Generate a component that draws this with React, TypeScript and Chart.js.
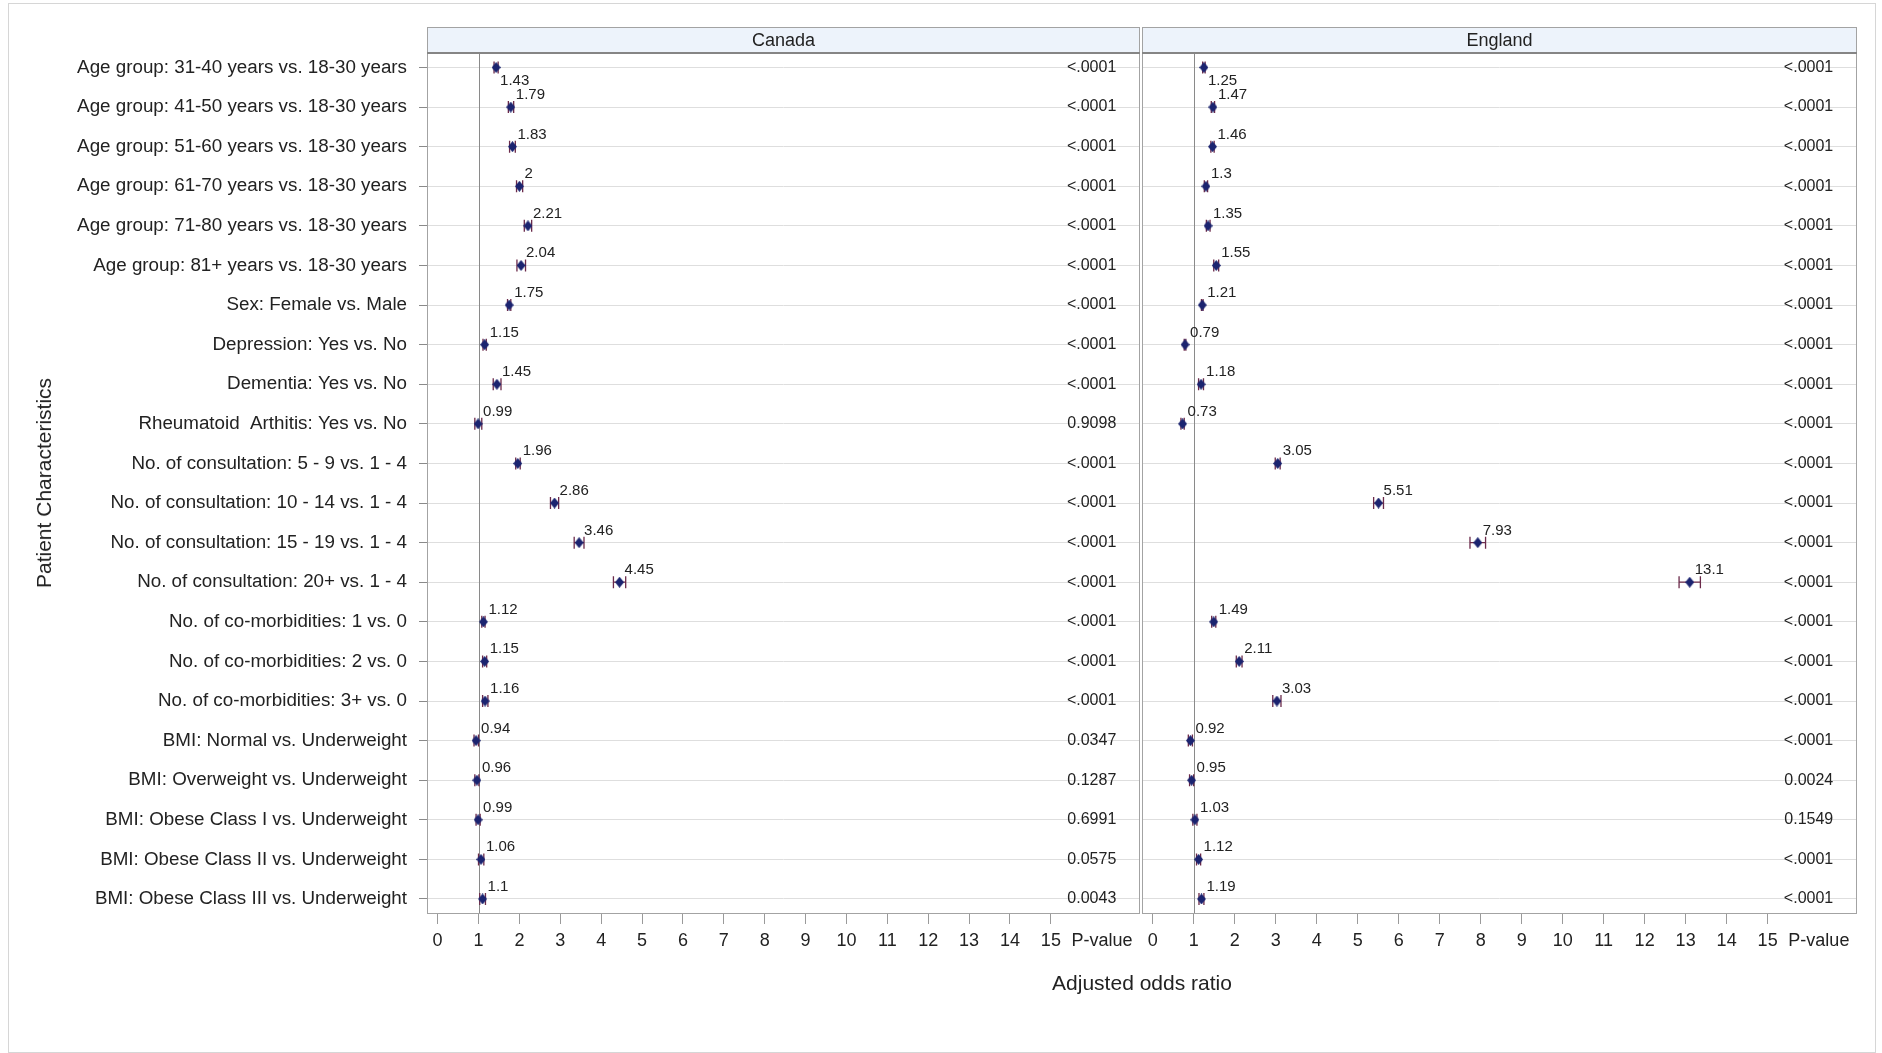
import React, { useEffect, useRef } from "react";
import { Chart, registerables } from "chart.js";

Chart.register(...registerables);

const categories = [
  "Age group: 31-40 years vs. 18-30 years",
  "Age group: 41-50 years vs. 18-30 years",
  "Age group: 51-60 years vs. 18-30 years",
  "Age group: 61-70 years vs. 18-30 years",
  "Age group: 71-80 years vs. 18-30 years",
  "Age group: 81+ years vs. 18-30 years",
  "Sex: Female vs. Male",
  "Depression: Yes vs. No",
  "Dementia: Yes vs. No",
  "Rheumatoid  Arthitis: Yes vs. No",
  "No. of consultation: 5 - 9 vs. 1 - 4",
  "No. of consultation: 10 - 14 vs. 1 - 4",
  "No. of consultation: 15 - 19 vs. 1 - 4",
  "No. of consultation: 20+ vs. 1 - 4",
  "No. of co-morbidities: 1 vs. 0",
  "No. of co-morbidities: 2 vs. 0",
  "No. of co-morbidities: 3+ vs. 0",
  "BMI: Normal vs. Underweight",
  "BMI: Overweight vs. Underweight",
  "BMI: Obese Class I vs. Underweight",
  "BMI: Obese Class II vs. Underweight",
  "BMI: Obese Class III vs. Underweight",
];

const canadaOR = [1.43, 1.79, 1.83, 2, 2.21, 2.04, 1.75, 1.15, 1.45, 0.99, 1.96, 2.86, 3.46, 4.45, 1.12, 1.15, 1.16, 0.94, 0.96, 0.99, 1.06, 1.1];
const canadaLower = [1.38, 1.73, 1.76, 1.93, 2.12, 1.94, 1.71, 1.11, 1.36, 0.91, 1.91, 2.76, 3.34, 4.3, 1.08, 1.1, 1.1, 0.89, 0.91, 0.94, 1.0, 1.03];
const canadaUpper = [1.48, 1.86, 1.9, 2.08, 2.3, 2.15, 1.79, 1.19, 1.55, 1.08, 2.02, 2.96, 3.58, 4.6, 1.16, 1.2, 1.23, 1.0, 1.01, 1.04, 1.13, 1.17];
const canadaP = ["<.0001", "<.0001", "<.0001", "<.0001", "<.0001", "<.0001", "<.0001", "<.0001", "<.0001", "0.9098", "<.0001", "<.0001", "<.0001", "<.0001", "<.0001", "<.0001", "<.0001", "0.0347", "0.1287", "0.6991", "0.0575", "0.0043"];

const englandOR = [1.25, 1.47, 1.46, 1.3, 1.35, 1.55, 1.21, 0.79, 1.18, 0.73, 3.05, 5.51, 7.93, 13.1, 1.49, 2.11, 3.03, 0.92, 0.95, 1.03, 1.12, 1.19];
const englandLower = [1.22, 1.43, 1.42, 1.26, 1.31, 1.49, 1.19, 0.77, 1.12, 0.69, 2.99, 5.39, 7.74, 12.84, 1.44, 2.04, 2.93, 0.87, 0.9, 0.98, 1.07, 1.13];
const englandUpper = [1.28, 1.51, 1.5, 1.34, 1.4, 1.61, 1.23, 0.81, 1.24, 0.77, 3.11, 5.63, 8.12, 13.36, 1.54, 2.18, 3.13, 0.97, 1.0, 1.08, 1.17, 1.25];
const englandP = ["<.0001", "<.0001", "<.0001", "<.0001", "<.0001", "<.0001", "<.0001", "<.0001", "<.0001", "<.0001", "<.0001", "<.0001", "<.0001", "<.0001", "<.0001", "<.0001", "<.0001", "<.0001", "0.0024", "0.1549", "<.0001", "<.0001"];

const xTickValues = [0, 1, 2, 3, 4, 5, 6, 7, 8, 9, 10, 11, 12, 13, 14, 15];
const pValueTick = 16.25;
const pValueColumn = 16.6;
const referenceValue = 1;

const FONT = "'Liberation Sans', Arial, Helvetica, sans-serif";
const TEXT = "#222222";
const MARKER = "#1b2470";
const ERR = "#6b2a4a";

function diamondCanvas() {
  const c = document.createElement("canvas");
  c.width = 9;
  c.height = 11;
  const g = c.getContext("2d")!;
  g.fillStyle = MARKER;
  g.beginPath();
  g.moveTo(4.5, 0);
  g.lineTo(9, 5.5);
  g.lineTo(4.5, 11);
  g.lineTo(0, 5.5);
  g.closePath();
  g.fill();
  return c;
}

function panelPlugin(title: string, ors: number[], lows: number[], highs: number[], pvals: string[]) {
  return {
    id: "panel_" + title,
    beforeDraw(chart: any) {
      const { ctx, chartArea: a } = chart;
      ctx.save();
      ctx.fillStyle = "#ffffff";
      ctx.fillRect(a.left, a.top, a.right - a.left, a.bottom - a.top);
      ctx.fillStyle = "#edf3fb";
      ctx.fillRect(a.left, 27, a.right - a.left, a.top - 27);
      ctx.fillStyle = TEXT;
      ctx.font = `18px ${FONT}`;
      ctx.textAlign = "center";
      ctx.textBaseline = "middle";
      ctx.fillText(title, (a.left + a.right) / 2, 41);
      ctx.restore();
    },
    beforeDatasetsDraw(chart: any) {
      const { ctx, chartArea: a, scales } = chart;
      const xs = scales.x;
      const ys = scales.y;
      ctx.save();
      const rx = Math.round(xs.getPixelForValue(referenceValue)) + 0.5;
      ctx.strokeStyle = "#8a8a8a";
      ctx.lineWidth = 1;
      ctx.beginPath();
      ctx.moveTo(rx, a.top);
      ctx.lineTo(rx, a.bottom);
      ctx.stroke();
      ctx.strokeStyle = ERR;
      ctx.lineWidth = 1.3;
      for (let i = 0; i < ors.length; i++) {
        const y = ys.getPixelForValue(i);
        const x1 = xs.getPixelForValue(lows[i]);
        const x2 = xs.getPixelForValue(highs[i]);
        ctx.beginPath();
        ctx.moveTo(x1, y);
        ctx.lineTo(x2, y);
        ctx.moveTo(x1, y - 6);
        ctx.lineTo(x1, y + 6);
        ctx.moveTo(x2, y - 6);
        ctx.lineTo(x2, y + 6);
        ctx.stroke();
      }
      ctx.restore();
    },
    afterDatasetsDraw(chart: any) {
      const { ctx, chartArea: a, scales } = chart;
      const xs = scales.x;
      const ys = scales.y;
      ctx.save();
      ctx.fillStyle = TEXT;
      ctx.font = `15px ${FONT}`;
      ctx.textAlign = "left";
      for (let i = 0; i < ors.length; i++) {
        const x = xs.getPixelForValue(ors[i]);
        const y = ys.getPixelForValue(i);
        if (y - 20 < a.top) {
          ctx.textBaseline = "top";
          ctx.fillText(String(ors[i]), x + 4, y + 6);
        } else {
          ctx.textBaseline = "alphabetic";
          ctx.fillText(String(ors[i]), x + 5, y - 8);
        }
      }
      ctx.font = `16px ${FONT}`;
      ctx.textAlign = "right";
      ctx.textBaseline = "middle";
      const px = xs.getPixelForValue(pValueColumn);
      for (let i = 0; i < pvals.length; i++) {
        ctx.fillText(pvals[i], px, ys.getPixelForValue(i));
      }
      ctx.restore();
    },
    afterDraw(chart: any) {
      const { ctx, chartArea: a } = chart;
      ctx.save();
      ctx.strokeStyle = "#a3a3a3";
      ctx.lineWidth = 1;
      ctx.strokeRect(Math.round(a.left) + 0.5, 27.5, Math.round(a.right - a.left) - 1, Math.round(a.bottom) - 27);
      ctx.strokeStyle = "#858585";
      ctx.lineWidth = 2;
      ctx.beginPath();
      ctx.moveTo(a.left, a.top);
      ctx.lineTo(a.right, a.top);
      ctx.stroke();
      ctx.restore();
    },
  };
}

function buildConfig(title: string, ors: number[], lows: number[], highs: number[], pvals: string[], showY: boolean, yWidth: number, pad: any) {
  const point = diamondCanvas();
  return {
    type: "scatter",
    data: {
      datasets: [
        {
          label: title,
          data: ors.map((v, i) => ({ x: v, y: i })),
          pointStyle: point,
          pointRadius: 5,
          backgroundColor: MARKER,
          borderColor: MARKER,
        },
      ],
    },
    options: {
      animation: false,
      responsive: false,
      maintainAspectRatio: false,
      layout: { padding: pad, autoPadding: false },
      plugins: { legend: { display: false }, tooltip: { enabled: false } },
      scales: {
        x: {
          type: "linear",
          min: -0.26,
          max: 17.18,
          afterBuildTicks: (s: any) => {
            s.ticks = [...xTickValues, pValueTick].map((v) => ({ value: v }));
          },
          afterFit: (s: any) => {
            s.height = 140;
            s.paddingLeft = 0;
            s.paddingRight = 0;
          },
          border: { display: false },
          grid: {
            drawOnChartArea: false,
            drawTicks: true,
            tickLength: 11,
            tickColor: (c: any) => (c.tick && c.tick.value > 15 ? "rgba(0,0,0,0)" : "#9a9a9a"),
          },
          ticks: {
            autoSkip: false,
            maxRotation: 0,
            padding: 6,
            color: TEXT,
            font: { family: FONT, size: 18 },
            callback: (v: any) => (v === pValueTick ? "P-value" : String(v)),
          },
        },
        y: {
          type: "linear",
          reverse: true,
          min: -0.366,
          max: 21.354,
          afterBuildTicks: (s: any) => {
            s.ticks = categories.map((_, i) => ({ value: i }));
          },
          afterFit: (s: any) => {
            s.width = yWidth;
            s.paddingTop = 0;
            s.paddingBottom = 0;
          },
          border: { display: false },
          grid: {
            color: "#dedede",
            lineWidth: 1,
            drawOnChartArea: true,
            drawTicks: showY,
            tickLength: 8,
            tickColor: "#8a8a8a",
          },
          ticks: {
            display: showY,
            autoSkip: false,
            padding: 12,
            color: TEXT,
            font: { family: FONT, size: 18.8 },
            callback: (v: any) => categories[v] ?? "",
          },
        },
      },
    },
    plugins: [panelPlugin(title, ors, lows, highs, pvals)],
  };
}

export default function App() {
  const leftRef = useRef<HTMLCanvasElement>(null);
  const rightRef = useRef<HTMLCanvasElement>(null);

  useEffect(() => {
    document.body.style.margin = "0";
    const c1 = new Chart(
      leftRef.current!,
      buildConfig("Canada", canadaOR, canadaLower, canadaUpper, canadaP, true, 427, { top: 53, right: 1, left: 0, bottom: 0 }) as any
    );
    const c2 = new Chart(
      rightRef.current!,
      buildConfig("England", englandOR, englandLower, englandUpper, englandP, false, 1, { top: 53, right: 25, left: 0, bottom: 0 }) as any
    );
    return () => {
      c1.destroy();
      c2.destroy();
    };
  }, []);

  return (
    <div style={{ position: "fixed", left: 0, top: 0, width: 1882, height: 1053, background: "#ffffff", overflow: "hidden", fontFamily: FONT }}>
      <div style={{ position: "absolute", left: 8, top: 3, width: 1866, height: 1048, border: "1px solid #d6d6d6" }} />
      <canvas ref={leftRef} width={1141} height={1053} style={{ position: "absolute", left: 0, top: 0, width: 1141, height: 1053 }} />
      <canvas ref={rightRef} width={741} height={1053} style={{ position: "absolute", left: 1141, top: 0, width: 741, height: 1053 }} />
      <div style={{ position: "absolute", left: 942, top: 970, width: 400, textAlign: "center", fontSize: 21, lineHeight: "26px", color: TEXT }}>
        Adjusted odds ratio
      </div>
      <div
        style={{
          position: "absolute",
          left: 44,
          top: 483,
          transform: "translate(-50%, -50%) rotate(-90deg)",
          whiteSpace: "nowrap",
          fontSize: 21,
          lineHeight: "26px",
          color: TEXT,
        }}
      >
        Patient Characteristics
      </div>
    </div>
  );
}
